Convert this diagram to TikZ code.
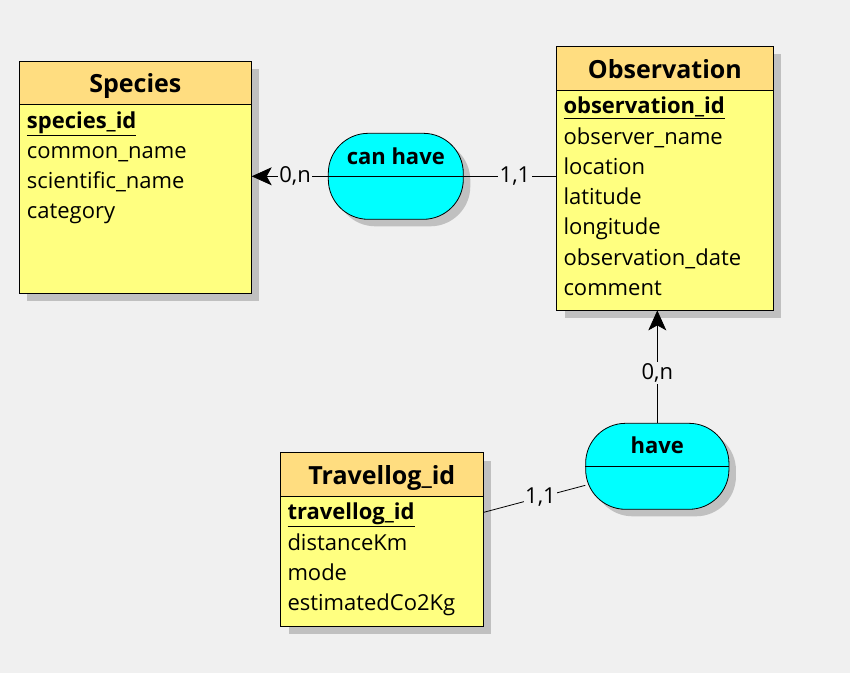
\documentclass[tikz,border=0pt]{standalone}
\usepackage{fontspec}
\setmainfont{Open Sans}
\usetikzlibrary{arrows.meta,shadows}
\definecolor{bg}{HTML}{F0F0F0}
\definecolor{headorange}{HTML}{FFDD80}
\definecolor{bodyyellow}{HTML}{FFFF80}
\definecolor{relcyan}{HTML}{00FFFF}
\definecolor{shadowgray}{HTML}{C0C0C0}
\begin{document}
\begin{tikzpicture}[x=1pt,y=-1pt,
  entity/.style={draw=black, fill=bodyyellow, line width=0.8pt, inner sep=0pt,
    drop shadow={shadow xshift=8pt, shadow yshift=-8pt, fill=shadowgray, opacity=1}},
  ehead/.style={draw=black, fill=headorange, line width=0.8pt, inner sep=0pt,
    text height=20pt, text depth=0pt,
    font=\bfseries\fontsize{25}{29}\selectfont},
  attr/.style={anchor=base west, inner sep=0pt,
    font=\fontsize{22}{26}\selectfont},
  keyattr/.style={attr, font=\bfseries\fontsize{22}{26}\selectfont},
  rel/.style={draw=black, fill=relcyan, line width=0.8pt, inner sep=0pt,
    rounded corners=40pt,
    drop shadow={shadow xshift=7pt, shadow yshift=-7pt, fill=shadowgray, opacity=1}},
  rellbl/.style={anchor=base, inner sep=0pt, font=\bfseries\fontsize{22}{26}\selectfont},
  conn/.style={draw=black, line width=0.8pt},
  arr/.style={conn, -{Stealth[length=20pt, width=18pt, inset=5pt]}},
  card/.style={fill=bg, inner sep=1.5pt, font=\fontsize{22}{26}\selectfont}
]
\useasboundingbox[fill=bg] (0,0) rectangle (850,673);

% Species
\node[entity, minimum width=232pt, minimum height=231.7pt] (species) at (135.3,177.15) {};
\node[ehead, minimum width=232pt, minimum height=43pt] (specieshead) at (135.3,82.8) {Species};
\node[keyattr] (sp1) at (26.7,128.3) {\underline{species\_id}};
\node[attr] (sp2) at (26.7,158.3) {common\_name};
\node[attr] (sp3) at (26.7,188.3) {scientific\_name};
\node[attr] (sp4) at (26.7,218.3) {category};

% Observation
\node[entity, minimum width=216.3pt, minimum height=264pt] (obs) at (664.85,178) {};
\node[ehead, minimum width=216.3pt, minimum height=44.7pt] (obshead) at (664.85,68.35) {Observation};
\node[keyattr] (ob1) at (563.3,113.7) {\underline{observation\_id}};
\node[attr] (ob2) at (563.3,144) {observer\_name};
\node[attr] (ob3) at (563.3,174.3) {location};
\node[attr] (ob4) at (563.3,204.6) {latitude};
\node[attr] (ob5) at (563.3,234.9) {longitude};
\node[attr] (ob6) at (563.3,265.2) {observation\_date};
\node[attr] (ob7) at (563.3,295.5) {comment};

% Travellog
\node[entity, minimum width=202.3pt, minimum height=173.3pt] (trav) at (381.85,539.35) {};
\node[ehead, minimum width=202.3pt, minimum height=43.3pt] (travhead) at (381.85,474.35) {Travellog\_id};
\node[keyattr] (tr1) at (287.3,519.7) {\underline{travellog\_id}};
\node[attr] (tr2) at (287.3,550) {distanceKm};
\node[attr] (tr3) at (287.3,580.3) {mode};
\node[attr] (tr4) at (287.3,610.6) {estimatedCo2Kg};

% Relationships
\node[rel, minimum width=135pt, minimum height=86pt] (canhave) at (395.8,176.3) {};
\node[rellbl] (canhavelbl) at (395.8,164) {can have};
\draw[conn] (canhave.west) -- (canhave.east);

\node[rel, minimum width=143.3pt, minimum height=86pt] (have) at (657.3,466.3) {};
\node[rellbl] (havelbl) at (657.3,453.3) {have};
\draw[conn] (have.west) -- (have.east);

% Connectors
\draw[arr] (canhave.west) -- (canhave.west -| species.east)
  node[card, pos=0.43] (c1) {0,n};
\draw[conn] (obs.west |- canhave.east) -- (canhave.east)
  node[card, pos=0.446] (c2) {1,1};
\draw[arr] (have.north) -- (have.north |- obs.south)
  node[card, pos=0.447] (c3) {0,n};
\draw[conn] (trav) -- (have)
  node[card, pos=0.56] (c4) {1,1};
\end{tikzpicture}
\end{document}
